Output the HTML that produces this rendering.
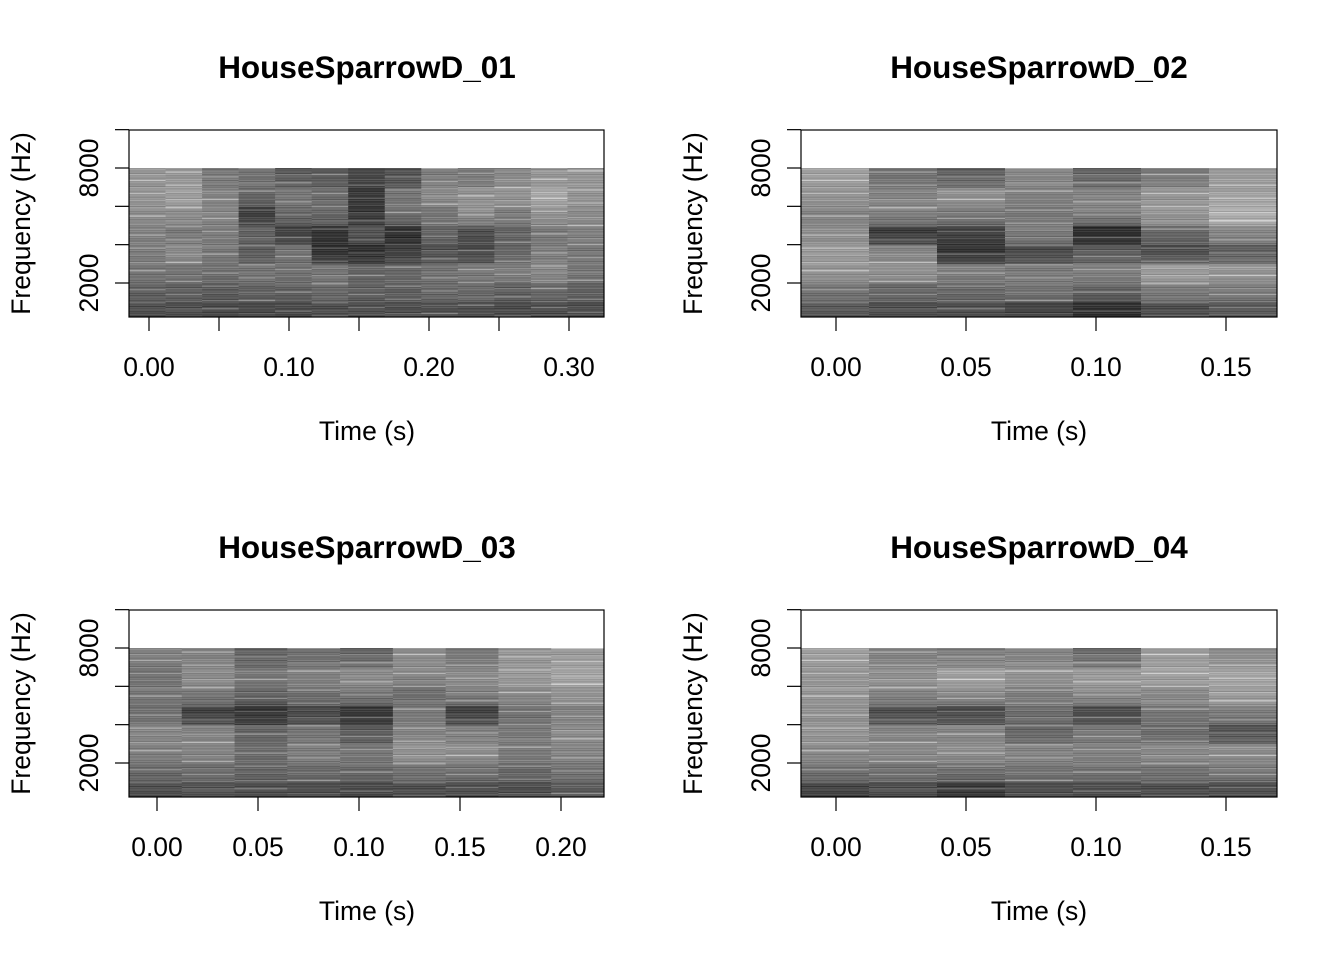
<!DOCTYPE html>
<html><head><meta charset="utf-8"><style>
html,body{margin:0;padding:0;background:#fff;}
svg text{font-family:"Liberation Sans",Arial,sans-serif;fill:#000;}
</style></head><body>
<svg id="chart" width="1344" height="960" xmlns="http://www.w3.org/2000/svg"></svg>
<script>
// ---- data ----
const panelTitles = ["HouseSparrowD_01","HouseSparrowD_02","HouseSparrowD_03","HouseSparrowD_04"];
const panelDurations = [0.325, 0.1697, 0.2225, 0.1697];
const xTickValues = [[0,0.05,0.10,0.15,0.20,0.25,0.30],[0,0.05,0.10,0.15],[0,0.05,0.10,0.15,0.20],[0,0.05,0.10,0.15]];
const xTickLabels = [["0.00","","0.10","","0.20","","0.30"],["0.00","0.05","0.10","0.15"],["0.00","0.05","0.10","0.15","0.20"],["0.00","0.05","0.10","0.15"]];
const yTickValues = [10000,8000,6000,4000,2000];
const yTickLabels = ["","8000","","","2000"];
// band gray levels per column, bands from 8000 Hz (top) down to 0 Hz
const spec1 = [
 [150,150,140,130,125,120,100,80],[150,160,145,120,140,120,100,80],[120,130,135,125,120,115,95,75],
 [115,110,60,100,90,120,100,75],[90,120,110,60,115,115,100,75],[90,110,110,55,45,120,110,80],
 [75,60,55,90,45,100,100,80],[80,115,120,50,60,105,100,80],[125,140,120,105,80,115,110,80],
 [120,145,150,80,70,125,110,80],[135,150,130,100,100,130,100,75],[145,170,150,120,125,140,110,80],
 [150,150,140,130,120,120,100,80]];
const spec2 = [
 [160,150,130,140,155,150,120,90],[115,130,140,55,130,150,110,80],[95,145,130,70,45,130,110,80],
 [135,130,120,130,70,125,120,70],[100,130,140,40,90,130,105,50],[120,150,155,110,70,160,130,80],
 [155,160,180,140,90,150,130,90]];
const spec3 = [
 [130,115,120,110,135,130,110,80],[130,140,130,60,130,135,115,85],[100,120,110,50,100,110,105,80],
 [110,130,120,70,115,130,110,80],[100,140,130,50,90,120,110,75],[140,140,110,120,130,150,120,80],
 [120,140,135,60,125,145,120,80],[150,155,140,115,120,125,110,80],[155,165,150,130,140,135,120,90]];
const spec4 = [
 [160,150,150,145,150,140,120,70],[130,145,140,75,130,140,120,80],[125,160,150,70,130,145,120,60],
 [130,150,130,110,100,135,120,80],[105,155,150,70,120,130,120,80],[155,165,140,120,105,140,120,80],
 [140,165,160,130,80,140,130,80]];
const stripeTexture = [0,14,-10,6,-18,24,-5,9,-12,3,45,-7,11,-15,5,-20,16,-3,8,-11,2,38,-8,13,-17,7,-2,19,-13,1,-6,12,-19,30,-1,15,-9,4,-14,10,55,-4,6,-16,9,-7];
const specs = [spec1,spec2,spec3,spec4];

// ---- layout ----
const NS="http://www.w3.org/2000/svg";
const svg=document.getElementById('chart');
const panels=[{l:129,r:604,t:130,b:317,cx:367},{l:801,r:1277,t:130,b:317,cx:1039},
              {l:129,r:604,t:610,b:797,cx:367},{l:801,r:1277,t:610,b:797,cx:1039}];
const x0px=[149,836,157,836], pxPerSec=[1400,2600,2020,2600];
function mk(tag,attrs,parent){const e=document.createElementNS(NS,tag);for(const k in attrs)e.setAttribute(k,attrs[k]);(parent||svg).appendChild(e);return e;}

panels.forEach((p,i)=>{
  const g=mk('g',{});
  
  
  const xs=t=>x0px[i]+t*pxPerSec[i];
  const yHz=p.t+38; const pxPerHz=115/6000;
  const ys=hz=>yHz+(8000-hz)*pxPerHz;
  const data=specs[i]; const n=data.length;
  const img=mk('g',{},g);
  
  
  const stripeHz=62;
  data.forEach((col,c)=>{
    const xa = p.l + (p.r-p.l)*c/n;
    const xb = p.l + (p.r-p.l)*(c+1)/n;
    let k=0;
    for(let hz=8000; hz>0; hz-=stripeHz, k++){
      const band=(8000-hz)/1000; const bi=Math.min(7,Math.floor(band));
      const fr=band-bi; const nb=Math.min(7,bi+1);
      let v=col[bi]*(1-fr*0.4)+col[nb]*(fr*0.4);
      v+=stripeTexture[(k+c*7)%stripeTexture.length];
      v=Math.max(20,Math.min(245,Math.round(v)));
      const y1=ys(hz), y2=Math.min(p.b, ys(hz-stripeHz));
      if(y1>=p.b) break;
      const r=mk('rect',{x:xa.toFixed(2),y:y1.toFixed(2),width:(xb-xa+0.3).toFixed(2),height:(y2-y1+0.3).toFixed(2),fill:`rgb(${v},${v},${v})`},img);
      
      
    }
  });
  const box=mk('rect',{x:p.l,y:p.t,width:p.r-p.l,height:p.b-p.t,fill:'none',stroke:'#000','stroke-width':1.2},g);
  
  
  xTickValues[i].forEach((v,j)=>{
    const x=xs(v);
    const tk=mk('line',{x1:x,x2:x,y1:p.b,y2:p.b+14,stroke:'#000','stroke-width':1.2},g);
    
    
    if(xTickLabels[i][j]){const t=mk('text',{x:x,y:p.b+59,'text-anchor':'middle','font-size':'26.5'},g);t.textContent=xTickLabels[i][j];
      
      }
  });
  yTickValues.forEach((v,j)=>{
    const y=ys(v);
    const tk=mk('line',{x1:p.l-14,x2:p.l,y1:y,y2:y,stroke:'#000','stroke-width':1.2},g);
    
    
    if(yTickLabels[j]){const lx=p.l-31;const t=mk('text',{x:lx,y:y,'text-anchor':'middle','font-size':'26.5',transform:`rotate(-90 ${lx} ${y})`},g);t.textContent=yTickLabels[j];
      
      }
  });
  const tt=mk('text',{x:p.cx,y:p.t-52,'text-anchor':'middle','font-size':'31.5','font-weight':'bold'},g);tt.textContent=panelTitles[i];
  
  
  const xl=mk('text',{x:p.cx,y:p.b+123,'text-anchor':'middle','font-size':'26.5'},g);xl.textContent='Time (s)';
  
  
  const yx=p.l-99, yy=(p.t+p.b)/2;
  const yl=mk('text',{x:yx,y:yy,'text-anchor':'middle','font-size':'26.5',transform:`rotate(-90 ${yx} ${yy})`},g);yl.textContent='Frequency (Hz)';
  
  
});
</script>
</body></html>
